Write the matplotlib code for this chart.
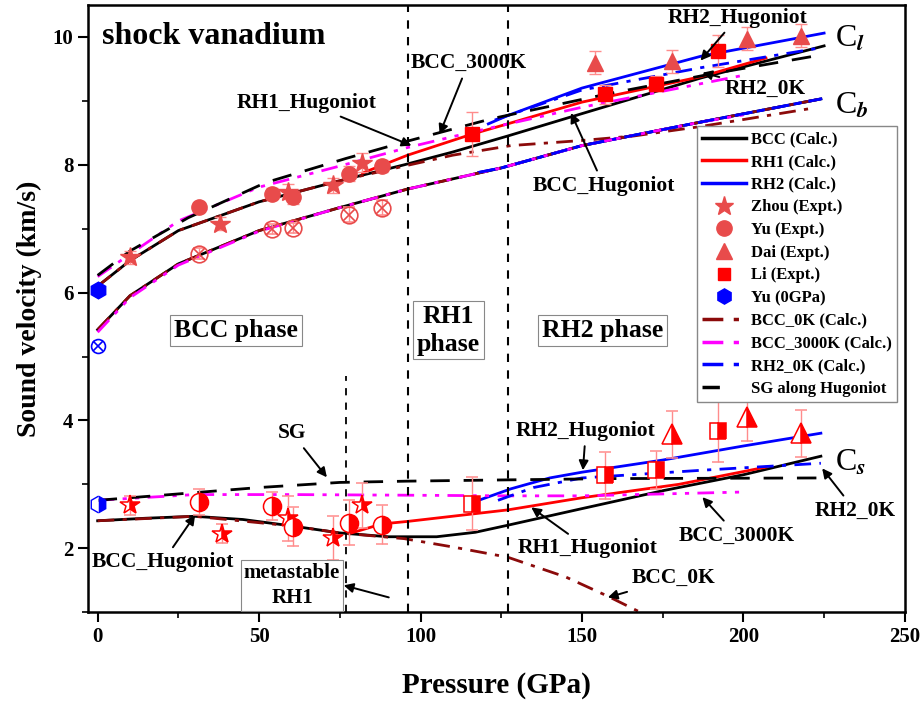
import numpy as np
import matplotlib
matplotlib.use("Agg")
import matplotlib.pyplot as plt
from matplotlib.lines import Line2D

plt.rcParams['font.family'] = ['Liberation Serif', 'DejaVu Serif']
plt.rcParams['font.weight'] = 'bold'
plt.rcParams['axes.labelweight'] = 'bold'
plt.rcParams['mathtext.fontset'] = 'stix'

RED = '#ff0000'
PINK = '#e84b4b'
EBAR = '#ff8c8c'
BROWN = '#8b0a0a'
MAGENTA = '#ff00ff'
BLUE = '#0000ff'

# ---- calculated curves: longitudinal sound velocity Cl ----
bcc_cl_p = [0, 10, 25, 50, 75, 95, 110, 127, 150, 187, 225]
bcc_cl_v = [6.1, 6.5, 6.97, 7.42, 7.75, 8.0, 8.2, 8.45, 8.8, 9.36, 9.86]
rh1_cl_p = [82, 96, 116, 127, 150, 187, 207]
rh1_cl_v = [7.87, 8.15, 8.48, 8.64, 8.98, 9.38, 9.67]
rh2_cl_p = [121, 127, 150, 187, 225]
rh2_cl_v = [8.64, 8.77, 9.2, 9.70, 10.06]
bcc0k_cl_p = [0, 10, 25, 50, 75, 95, 110, 128, 150, 166, 187, 222]
bcc0k_cl_v = [6.1, 6.5, 6.97, 7.42, 7.75, 7.98, 8.15, 8.3, 8.38, 8.45, 8.6, 8.89]
bcc3k_cl_p = [0, 10, 25, 50, 75, 96, 115, 150, 175, 200]
bcc3k_cl_v = [6.25, 6.6, 7.12, 7.65, 7.98, 8.27, 8.5, 8.9, 9.15, 9.4]
rh20k_cl_p = [123, 150, 187, 224]
rh20k_cl_v = [8.7, 9.17, 9.52, 9.83]
sg_cl_p = [0, 10, 28, 52, 77, 96, 122, 159, 190, 222]
sg_cl_v = [6.27, 6.65, 7.17, 7.72, 8.1, 8.37, 8.72, 9.12, 9.42, 9.70]

# ---- calculated curves: bulk sound velocity Cb ----
cb_p = [0, 10, 25, 50, 75, 96, 125, 150, 187, 224]
cb_v = [5.42, 5.95, 6.45, 6.97, 7.33, 7.62, 7.95, 8.3, 8.67, 9.03]
rh2_cb_p = [118, 125, 150, 187, 224]
rh2_cb_v = [7.88, 7.95, 8.3, 8.67, 9.03]
bcc3k_cb_p = [0, 10, 25, 50, 75, 96, 125, 150, 187, 200]
bcc3k_cb_v = [5.38, 5.92, 6.43, 6.96, 7.33, 7.62, 7.95, 8.3, 8.67, 8.78]

# ---- calculated curves: shear sound velocity Cs ----
bcc_cs_p = [0, 15, 30, 45, 60, 75, 90, 105, 117, 127, 150, 175, 200, 224]
bcc_cs_v = [2.43, 2.47, 2.5, 2.45, 2.35, 2.24, 2.18, 2.18, 2.25, 2.36, 2.62, 2.9, 3.15, 3.44]
bcc0k_cs_p = [0, 30, 60, 75, 95, 110, 127, 145, 158, 170]
bcc0k_cs_v = [2.43, 2.5, 2.35, 2.24, 2.15, 2.02, 1.86, 1.55, 1.25, 0.95]
rh1_cs_p = [78, 88, 96, 127, 150, 180, 207]
rh1_cs_v = [2.23, 2.38, 2.42, 2.6, 2.79, 3.0, 3.27]
rh2_cs_p = [118, 128, 140, 150, 175, 200, 224]
rh2_cs_v = [2.75, 2.93, 3.1, 3.19, 3.38, 3.6, 3.8]
rh20k_cs_p = [124, 135, 150, 187, 224]
rh20k_cs_v = [2.75, 2.95, 3.1, 3.22, 3.33]
bcc3k_cs_p = [0, 30, 60, 96, 127, 150, 175, 200]
bcc3k_cs_v = [2.75, 2.84, 2.84, 2.83, 2.82, 2.82, 2.85, 2.88]
sg_cs_p = [0, 25, 50, 75, 96, 127, 160, 224]
sg_cs_v = [2.75, 2.85, 2.95, 3.03, 3.05, 3.07, 3.09, 3.1]

# ---- experiments ----
zhou_cl_p = [10, 38, 59, 73, 82]
zhou_cl_v = [6.55, 7.08, 7.58, 7.68, 8.03]
zhou_cl_e = [0.1, 0.1, 0.12, 0.12, 0.15]
zhou_cs_p = [10, 38.5, 59, 73, 82]
zhou_cs_v = [2.67, 2.23, 2.47, 2.16, 2.67]
zhou_cs_e = [0.15, 0.15, 0.35, 0.35, 0.35]

yu_p = [31.5, 54, 60.5, 78, 88]
yu_cl_v = [7.34, 7.55, 7.49, 7.86, 7.98]
yu_cl_e = [0.08, 0.08, 0.1, 0.12, 0.1]
yu_cb_v = [6.61, 7.0, 7.01, 7.22, 7.33]
yu_cb_e = [0.08, 0.08, 0.08, 0.12, 0.12]
yu_cs_v = [2.72, 2.66, 2.34, 2.4, 2.37]
yu_cs_e = [0.2, 0.22, 0.3, 0.35, 0.3]

dai_cl_p = [154, 178, 201, 218]
dai_cl_v = [9.6, 9.62, 9.97, 10.02]
dai_cl_e = [0.18, 0.18, 0.18, 0.18]
dai_cs_p = [178, 201, 218]
dai_cs_v = [3.78, 4.05, 3.8]
dai_cs_e = [0.37, 0.37, 0.37]

li_p = [116, 157, 173, 192]
li_cl_v = [8.48, 9.1, 9.27, 9.78]
li_cl_e = [0.35, 0.15, 0.12, 0.25]
li_cs_v = [2.7, 3.14, 3.22, 3.83]
li_cs_e = [0.42, 0.37, 0.3, 0.48]

yu0_cl, yu0_cb, yu0_cs = 6.04, 5.17, 2.7

fig = plt.figure(figsize=(9.23, 7.11), dpi=100)
ax = fig.add_axes([0.0953, 0.139, 0.885, 0.854])

# calculated lines
lw = 2
ax.plot(bcc_cl_p, bcc_cl_v, color='black', lw=lw)
ax.plot(cb_p, cb_v, color='black', lw=lw)
ax.plot(bcc_cs_p, bcc_cs_v, color='black', lw=lw)
ax.plot(rh1_cl_p, rh1_cl_v, color=RED, lw=lw)
ax.plot(rh1_cs_p, rh1_cs_v, color=RED, lw=lw)
ax.plot(rh2_cl_p, rh2_cl_v, color=BLUE, lw=lw)
ax.plot(rh2_cb_p, rh2_cb_v, color=BLUE, lw=lw)
ax.plot(rh2_cs_p, rh2_cs_v, color=BLUE, lw=lw)

dashdot = (0, (6, 3, 1.5, 3))
dashdotdot = (0, (6, 3, 1.5, 3, 1.5, 3))
ax.plot(bcc0k_cl_p, bcc0k_cl_v, color=BROWN, lw=lw, ls=dashdot)
ax.plot(cb_p, cb_v, color=BROWN, lw=lw, ls=dashdot)
ax.plot(bcc0k_cs_p, bcc0k_cs_v, color=BROWN, lw=lw, ls=dashdot)
ax.plot(bcc3k_cl_p, bcc3k_cl_v, color=MAGENTA, lw=lw, ls=dashdotdot)
ax.plot(bcc3k_cb_p, bcc3k_cb_v, color=MAGENTA, lw=lw, ls=dashdotdot)
ax.plot(bcc3k_cs_p, bcc3k_cs_v, color=MAGENTA, lw=lw, ls=dashdotdot)
ax.plot(rh20k_cl_p, rh20k_cl_v, color=BLUE, lw=lw, ls=dashdot)
ax.plot(rh2_cb_p, rh2_cb_v, color=BLUE, lw=lw, ls=dashdot)
ax.plot(rh20k_cs_p, rh20k_cs_v, color=BLUE, lw=lw, ls=dashdot)
ax.plot(sg_cl_p, sg_cl_v, color='black', lw=lw, ls=(0, (7, 5)))
ax.plot(sg_cs_p, sg_cs_v, color='black', lw=lw, ls=(0, (7, 5)))

# phase boundaries
ax.axvline(96, color='black', lw=1.5, ls=(0, (4, 4)))
ax.axvline(127, color='black', lw=1.5, ls=(0, (4, 4)))
ax.plot([77, 77], [1, 4.7], color='black', lw=1.3, ls=(0, (4, 4)))

eb = dict(ecolor=EBAR, elinewidth=1, capsize=4, capthick=1, ls='none')

# Cl (filled)
ax.errorbar(zhou_cl_p, zhou_cl_v, yerr=zhou_cl_e, fmt='*', ms=15, color=PINK, **eb)
ax.errorbar(yu_p, yu_cl_v, yerr=yu_cl_e, fmt='o', ms=11, color=PINK, **eb)
ax.errorbar(dai_cl_p, dai_cl_v, yerr=dai_cl_e, fmt='^', ms=12, color=PINK, **eb)
ax.errorbar(li_p, li_cl_v, yerr=li_cl_e, fmt='s', ms=10, color=RED, **eb)

# Cb (crossed circles)
ax.errorbar(yu_p, yu_cb_v, yerr=yu_cb_e, fmt='o', ms=12, mfc='none', mec=PINK, mew=1.2, **eb)
ax.plot(yu_p, yu_cb_v, 'x', ms=8, color=PINK, mew=1.2)

# Cs (half-filled)
half = dict(fillstyle='right', mfc=RED, mfcalt='white', mew=1.1)
ax.errorbar(zhou_cs_p, zhou_cs_v, yerr=zhou_cs_e, fmt='*', ms=15, mec=RED, **half, **eb)
ax.errorbar(yu_p, yu_cs_v, yerr=yu_cs_e, fmt='o', ms=13, mec=RED, **half, **eb)
ax.errorbar(dai_cs_p, dai_cs_v, yerr=dai_cs_e, fmt='^', ms=14, mec=RED, **half, **eb)
ax.errorbar(li_p, li_cs_v, yerr=li_cs_e, fmt='s', ms=12, mec=RED, **half, **eb)

# Yu at 0 GPa
ax.plot([0], [yu0_cl], 'h', ms=12, color=BLUE, clip_on=False, zorder=5)
ax.plot([0], [yu0_cb], 'o', ms=10, mfc='none', mec=BLUE, mew=1.2, clip_on=False, zorder=5)
ax.plot([0], [yu0_cb], 'x', ms=7, color=BLUE, mew=1.2, clip_on=False, zorder=5)
ax.plot([0], [yu0_cs], 'h', ms=12, fillstyle='right', mfc=BLUE, mfcalt='white',
        mec=BLUE, clip_on=False, zorder=5)

# legend proxies
handles = [
    Line2D([], [], color='black', lw=2.5),
    Line2D([], [], color=RED, lw=2.5),
    Line2D([], [], color=BLUE, lw=2.5),
    Line2D([], [], ls='none', marker='*', ms=14, color=PINK),
    Line2D([], [], ls='none', marker='o', ms=11, color=PINK),
    Line2D([], [], ls='none', marker='^', ms=11, color=PINK),
    Line2D([], [], ls='none', marker='s', ms=9, color=RED),
    Line2D([], [], ls='none', marker='h', ms=11, color=BLUE),
    Line2D([], [], color=BROWN, lw=2.5, ls=dashdot),
    Line2D([], [], color=MAGENTA, lw=2.5, ls=dashdotdot),
    Line2D([], [], color=BLUE, lw=2.5, ls=dashdot),
    Line2D([], [], color='black', lw=2.5, ls=(0, (5, 8))),
]
labels = ['BCC (Calc.)', 'RH1 (Calc.)', 'RH2 (Calc.)', 'Zhou (Expt.)', 'Yu (Expt.)',
          'Dai (Expt.)', 'Li (Expt.)', 'Yu (0GPa)', 'BCC_0K (Calc.)',
          'BCC_3000K (Calc.)', 'RH2_0K (Calc.)', 'SG along Hugoniot']
leg = ax.legend(handles, labels, loc='upper right', bbox_to_anchor=(0.99, 0.80),
                fontsize=12, handlelength=2.6, labelspacing=0.4, borderpad=0.3,
                handletextpad=0.3, fancybox=False, framealpha=1, borderaxespad=0)
leg.get_frame().set_edgecolor('#888888')

# labels
ax.text(1.5, 10.0, 'shock vanadium', fontsize=23, va='center', ha='left')
for y, sub in [(9.97, 'l'), (8.92, 'b'), (3.34, 's')]:
    ax.text(228.4, y, r'C$_{\mathit{%s}}$' % sub, fontsize=23, fontweight='normal',
            va='center')

box = dict(boxstyle='square,pad=0.15', fc='white', ec='#888888', lw=0.8)
ax.text(42.9, 5.41, 'BCC phase', fontsize=18.5, ha='center', va='center', bbox=box)
ax.text(108.6, 5.41, 'RH1\nphase', fontsize=18.5, ha='center', va='center', bbox=box,
        linespacing=1.25)
ax.text(156.5, 5.41, 'RH2 phase', fontsize=18.5, ha='center', va='center', bbox=box)
ax.text(60.2, 1.42, 'metastable\nRH1', fontsize=15, ha='center', va='center', bbox=box,
        linespacing=1.3)

arrow = dict(arrowstyle='-|>', color='black', lw=1.4, mutation_scale=14, shrinkA=2, shrinkB=0)
notes = [
    ('RH1_Hugoniot', (64.8, 8.97), (97.2, 8.30)),
    ('BCC_3000K', (114.8, 9.59), (105.9, 8.48)),
    ('RH2_Hugoniot', (198.1, 10.3), (186.7, 9.63)),
    ('RH2_0K', (206.8, 9.19), (187.3, 9.44)),
    ('BCC_Hugoniot', (156.8, 7.67), (146.6, 8.81)),
    ('SG', (60.2, 3.80), (71.0, 3.11)),
    ('BCC_Hugoniot', (20.1, 1.78), (30.2, 2.52)),
    ('RH2_Hugoniot', (151.2, 3.84), (150.3, 3.22)),
    ('RH1_Hugoniot', (151.9, 2.0), (134.3, 2.64)),
    ('BCC_3000K', (198.1, 2.2), (187.3, 2.80)),
    ('RH2_0K', (234.6, 2.59), (224.4, 3.25)),
    ('BCC_0K', (178.4, 1.53), (158.0, 1.23)),
]
for txt, xyt, xy in notes:
    ax.annotate(txt, xy=xy, xytext=xyt, fontsize=15.5, ha='center', va='center',
                arrowprops=arrow, annotation_clip=False)
ax.annotate('', xy=(76.2, 1.42), xytext=(91.0, 1.22), arrowprops=arrow)

ax.set_xlim(-3, 250)
ax.set_ylim(1, 10.5)
ax.set_xticks([0, 50, 100, 150, 200, 250])
ax.set_xticks([25, 75, 125, 175, 225], minor=True)
ax.set_yticks([2, 4, 6, 8, 10])
ax.set_yticks([1, 3, 5, 7, 9], minor=True)
ax.tick_params(which='major', direction='out', length=7, width=1.5, labelsize=15)
ax.tick_params(which='minor', direction='out', length=4, width=1.2)
for s in ax.spines.values():
    s.set_linewidth(1.8)
ax.set_xlabel('Pressure (GPa)', fontsize=21, labelpad=18)
ax.set_ylabel('Sound velocity (km/s)', fontsize=20, labelpad=8)

fig.savefig('out.png', dpi=100)
